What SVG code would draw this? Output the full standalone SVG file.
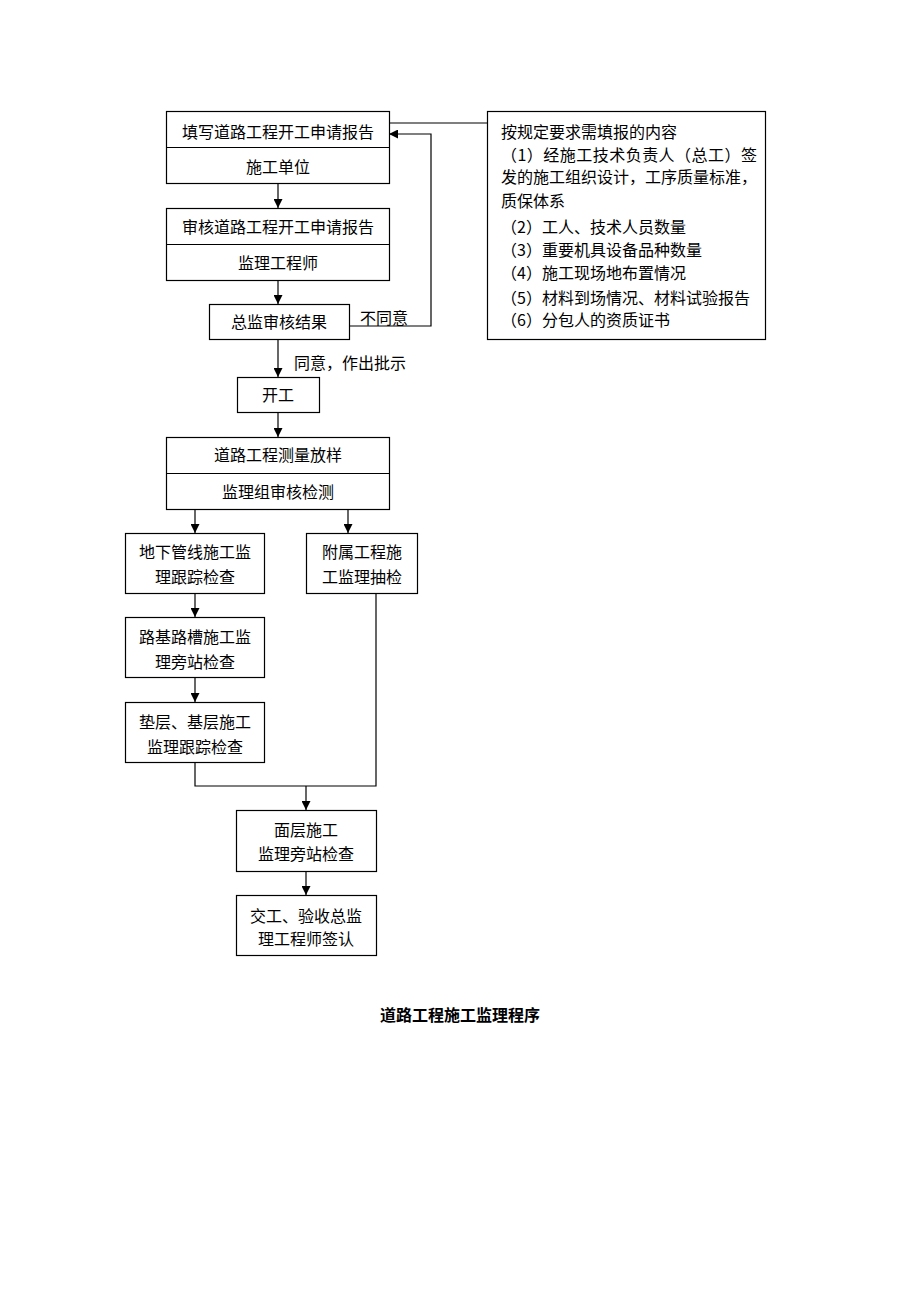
<svg xmlns="http://www.w3.org/2000/svg" width="920" height="1302" viewBox="0 0 920 1302">
<defs>
<marker id="arr" viewBox="0 0 10 10" refX="10" refY="5" markerWidth="9" markerHeight="9" markerUnits="userSpaceOnUse" orient="auto">
<path d="M0,0 L10,5 L0,10 Z" fill="#000"/>
</marker>
<style>
rect,.box{fill:#fff;stroke:#000;stroke-width:1.2}
.ln{fill:none;stroke:#000;stroke-width:1.2}
text{font-family:"Noto Sans CJK SC","Liberation Serif",serif;font-size:16px;fill:#000}
.c{text-anchor:middle}
.t{font-weight:bold}
</style>
</defs>
<rect width="920" height="1302" fill="#fff" style="stroke:none"/>
<g id="connectors">
<path class="ln" d="M278,183 V208" marker-end="url(#arr)"/>
<path class="ln" d="M278,280 V304" marker-end="url(#arr)"/>
<path class="ln" d="M349,326 H431 V134 H389" marker-end="url(#arr)"/>
<path class="ln" d="M389,123 H487"/>
<path class="ln" d="M278,340 V377" marker-end="url(#arr)"/>
<path class="ln" d="M278,412 V437" marker-end="url(#arr)"/>
<path class="ln" d="M195,509 V533" marker-end="url(#arr)"/>
<path class="ln" d="M348,509 V533" marker-end="url(#arr)"/>
<path class="ln" d="M195,593 V617" marker-end="url(#arr)"/>
<path class="ln" d="M195,677 V702" marker-end="url(#arr)"/>
<path class="ln" d="M195,762 V786 H376 V593"/>
<path class="ln" d="M306,786 V810" marker-end="url(#arr)"/>
<path class="ln" d="M306,871 V895" marker-end="url(#arr)"/>
<text x="360" y="324">不同意</text>
<text x="294" y="369">同意，作出批示</text>
</g>
<g id="n1">
<rect x="166.5" y="111.5" width="223" height="72"/>
<path class="ln" d="M166.5,147.5 H389.5"/>
<text class="c" x="278" y="138">填写道路工程开工申请报告</text>
<text class="c" x="278" y="173">施工单位</text>
</g>
<g id="n2">
<rect x="166.5" y="208.5" width="223" height="72"/>
<path class="ln" d="M166.5,244.5 H389.5"/>
<text class="c" x="278" y="233">审核道路工程开工申请报告</text>
<text class="c" x="278" y="269">监理工程师</text>
</g>
<g id="n3">
<rect x="209.5" y="304.5" width="140" height="35"/>
<text class="c" x="279" y="328">总监审核结果</text>
</g>
<g id="n4">
<rect x="487.5" y="111.5" width="278" height="228"/>
<text x="501" y="138">按规定要求需填报的内容</text>
<text x="501" y="161" textLength="256">（1）经施工技术负责人（总工）签</text>
<text x="501" y="183" textLength="256">发的施工组织设计，工序质量标准，</text>
<text x="501" y="207">质保体系</text>
<text x="501" y="233">（2）工人、技术人员数量</text>
<text x="501" y="256">（3）重要机具设备品种数量</text>
<text x="501" y="279">（4）施工现场地布置情况</text>
<text x="501" y="304">（5）材料到场情况、材料试验报告</text>
<text x="501" y="326">（6）分包人的资质证书</text>
</g>
<g id="n5">
<rect x="237.5" y="377.5" width="82" height="35"/>
<text class="c" x="278" y="401">开工</text>
</g>
<g id="n6">
<rect x="166.5" y="437.5" width="223" height="72"/>
<path class="ln" d="M166.5,473.5 H389.5"/>
<text class="c" x="278" y="461">道路工程测量放样</text>
<text class="c" x="278" y="498">监理组审核检测</text>
</g>
<g id="n7">
<rect x="125.5" y="533.5" width="139" height="60"/>
<text class="c" x="195" y="558">地下管线施工监</text>
<text class="c" x="195" y="583">理跟踪检查</text>
</g>
<g id="n8">
<rect x="306.5" y="533.5" width="111" height="60"/>
<text class="c" x="362" y="558">附属工程施</text>
<text class="c" x="362" y="583">工监理抽检</text>
</g>
<g id="n9">
<rect x="125.5" y="617.5" width="139" height="60"/>
<text class="c" x="195" y="643">路基路槽施工监</text>
<text class="c" x="195" y="668">理旁站检查</text>
</g>
<g id="n10">
<rect x="125.5" y="702.5" width="139" height="60"/>
<text class="c" x="195" y="728">垫层、基层施工</text>
<text class="c" x="195" y="753">监理跟踪检查</text>
</g>
<g id="n11">
<rect x="236.5" y="810.5" width="140" height="61"/>
<text class="c" x="306" y="836">面层施工</text>
<text class="c" x="306" y="860">监理旁站检查</text>
</g>
<g id="n12">
<rect x="236.5" y="895.5" width="140" height="60"/>
<text class="c" x="306" y="922">交工、验收总监</text>
<text class="c" x="306" y="945">理工程师签认</text>
</g>
<g id="title">
<text class="c t" x="460" y="1021">道路工程施工监理程序</text>
</g>
</svg>
